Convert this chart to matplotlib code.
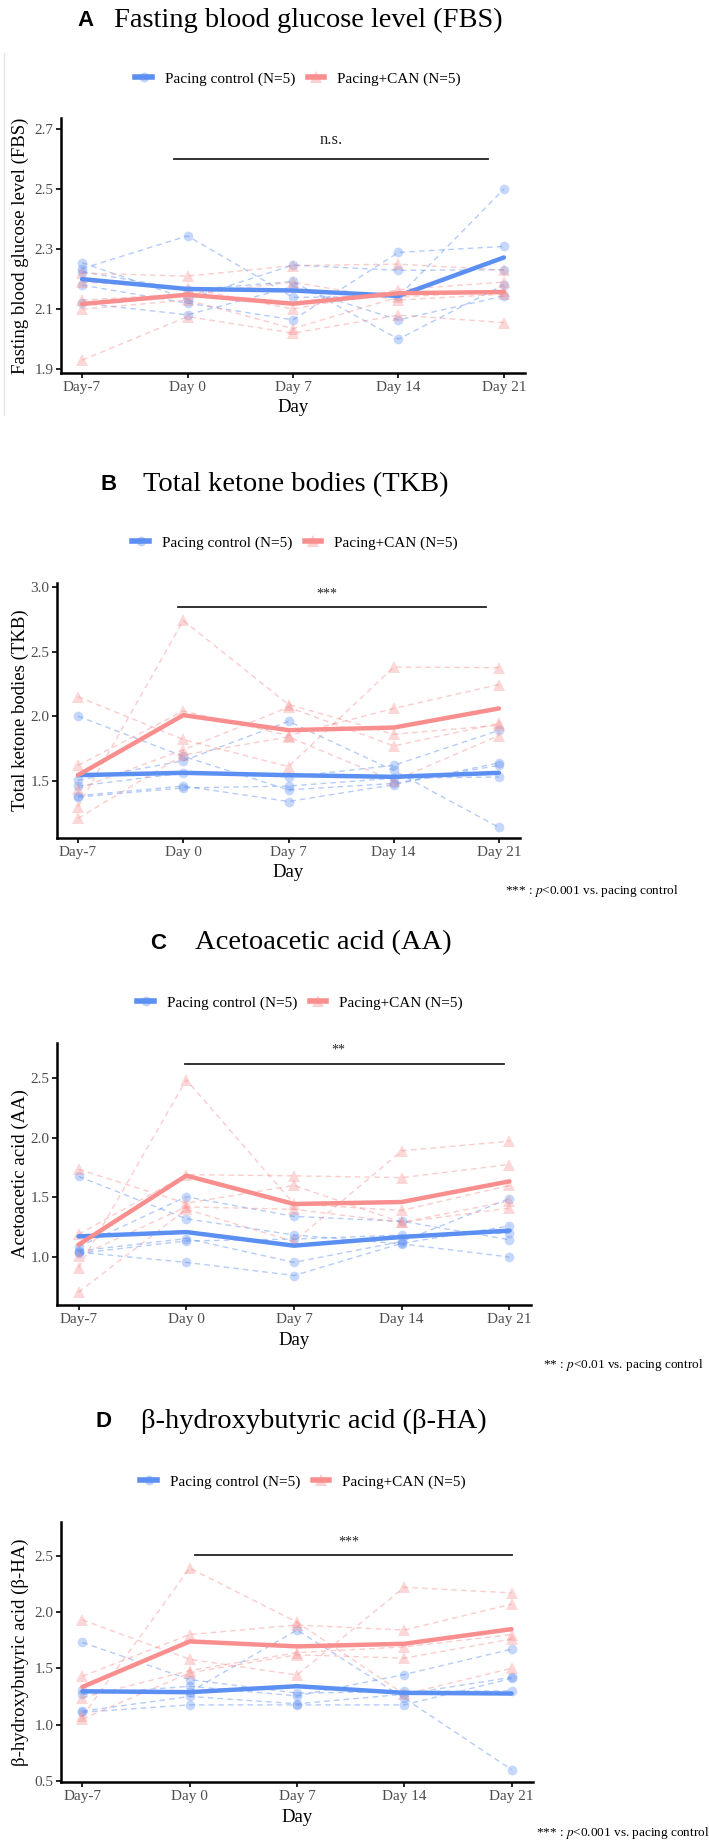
import numpy as np
import matplotlib
matplotlib.use("Agg")
import matplotlib.pyplot as plt
from matplotlib.lines import Line2D
from matplotlib.font_manager import FontProperties

plt.rcParams['font.family'] = ['Liberation Serif', 'DejaVu Serif']
plt.rcParams['mathtext.fontset'] = 'stix'

days = ["Day-7", "Day 0", "Day 7", "Day 14", "Day 21"]
legend_labels = ["Pacing control (N=5)", "Pacing+CAN (N=5)"]

# ---------------- Panel A : FBS ----------------
fbs_ctrl = [
    [2.255, 2.133, 2.247, 2.229, 2.231],
    [2.235, 2.344, 2.139, 2.142, 2.500],
    [2.225, 2.164, 2.192, 2.000, 2.181],
    [2.180, 2.120, 2.064, 2.289, 2.309],
    [2.120, 2.081, 2.175, 2.064, 2.144],
]
fbs_can = [
    [2.220, 2.210, 2.245, 2.250, 2.230],
    [2.190, 2.170, 2.100, 2.165, 2.190],
    [2.130, 2.150, 2.190, 2.130, 2.150],
    [2.100, 2.130, 2.035, 2.140, 2.160],
    [1.930, 2.075, 2.020, 2.080, 2.055],
]
fbs_ctrl_mean = [2.200, 2.167, 2.162, 2.144, 2.272]
fbs_can_mean = [2.117, 2.148, 2.118, 2.153, 2.157]

# ---------------- Panel B : TKB ----------------
tkb_ctrl = [
    [2.000, 1.690, 1.430, 1.480, 1.620],
    [1.505, 1.655, 1.960, 1.580, 1.140],
    [1.460, 1.560, 1.530, 1.620, 1.890],
    [1.385, 1.460, 1.340, 1.470, 1.640],
    [1.375, 1.445, 1.460, 1.520, 1.530],
]
tkb_can = [
    [2.150, 1.820, 1.610, 2.380, 2.375],
    [1.300, 2.740, 2.090, 1.860, 1.930],
    [1.620, 2.040, 1.850, 2.060, 2.245],
    [1.440, 1.740, 2.070, 1.770, 1.945],
    [1.210, 1.700, 1.840, 1.500, 1.850],
]
tkb_ctrl_mean = [1.544, 1.562, 1.544, 1.531, 1.562]
tkb_can_mean = [1.544, 2.008, 1.892, 1.912, 2.060]

# ---------------- Panel C : AA ----------------
aa_ctrl = [
    [1.675, 1.320, 1.185, 1.110, 1.000],
    [1.085, 1.505, 1.340, 1.300, 1.145],
    [1.050, 1.155, 0.955, 1.130, 1.490],
    [1.040, 0.955, 0.845, 1.115, 1.260],
    [1.030, 1.135, 1.150, 1.185, 1.200],
]
aa_can = [
    [1.735, 1.450, 1.600, 1.290, 1.470],
    [0.910, 2.485, 1.445, 1.390, 1.600],
    [1.190, 1.690, 1.680, 1.665, 1.775],
    [1.005, 1.420, 1.400, 1.290, 1.410],
    [0.705, 1.400, 1.130, 1.890, 1.970],
]
aa_ctrl_mean = [1.173, 1.209, 1.095, 1.168, 1.221]
aa_can_mean = [1.103, 1.682, 1.444, 1.461, 1.634]

# ---------------- Panel D : beta-HA ----------------
bha_ctrl = [
    [1.730, 1.400, 1.280, 1.295, 1.300],
    [1.305, 1.290, 1.840, 1.235, 0.600],
    [1.270, 1.340, 1.255, 1.445, 1.670],
    [1.120, 1.250, 1.185, 1.270, 1.420],
    [1.110, 1.175, 1.175, 1.175, 1.410],
]
bha_can = [
    [1.930, 1.580, 1.440, 2.220, 2.170],
    [1.075, 2.390, 1.910, 1.270, 1.500],
    [1.430, 1.800, 1.885, 1.840, 2.070],
    [1.240, 1.480, 1.640, 1.690, 1.800],
    [1.050, 1.460, 1.620, 1.590, 1.760],
]
bha_ctrl_mean = [1.296, 1.288, 1.341, 1.282, 1.276]
bha_can_mean = [1.335, 1.739, 1.695, 1.718, 1.848]

W, H = 709, 1842
BLUE = "#5B8FF2"
RED = "#F98E8E"
GRAY = "#4D4D4D"

fig = plt.figure(figsize=(W / 100, H / 100), dpi=100)


def rect(l, t, r, b):
    return [l / W, 1 - b / H, (r - l) / W, (b - t) / H]


def fx(x):
    return x / W


def fy(y):
    return 1 - y / H


panels = [
    dict(letter="A", title="Fasting blood glucose level (FBS)", ylabel="Fasting blood glucose level (FBS)",
         ctrl=fbs_ctrl, can=fbs_can, cm=fbs_ctrl_mean, km=fbs_can_mean,
         box=(61, 118, 525, 373), ylim=(1.887, 2.737), yticks=[1.9, 2.1, 2.3, 2.5, 2.7],
         letter_x=77, title_x=114, title_y=20, legend_y=79, legend_x=298,
         sig=(0.87, 3.845, 2.60), sig_text="n.s.", sig_text_pos=(2.36, 2.665), sig_fs=12,
         xlabel_y=408, note=None),
    dict(letter="B", title="Total ketone bodies (TKB)", ylabel="Total ketone bodies (TKB)",
         ctrl=tkb_ctrl, can=tkb_can, cm=tkb_ctrl_mean, km=tkb_can_mean,
         box=(57, 583, 520, 838), ylim=(1.058, 3.03), yticks=[1.5, 2.0, 2.5, 3.0],
         letter_x=100, title_x=143, title_y=485, legend_y=543, legend_x=295,
         sig=(0.95, 3.88, 2.845), sig_text="***", sig_text_pos=(2.36, 2.945), sig_fs=10,
         xlabel_y=872, note=("***", "p<0.001", 505, 891)),
    dict(letter="C", title="Acetoacetic acid (AA)", ylabel="Acetoacetic acid (AA)",
         ctrl=aa_ctrl, can=aa_can, cm=aa_ctrl_mean, km=aa_can_mean,
         box=(57, 1043, 531, 1305), ylim=(0.598, 2.793), yticks=[1.0, 1.5, 2.0, 2.5],
         letter_x=150, title_x=195, title_y=943, legend_y=1003, legend_x=300,
         sig=(0.985, 3.945, 2.62), sig_text="**", sig_text_pos=(2.41, 2.735), sig_fs=10,
         xlabel_y=1340, note=("**", "p<0.01", 543, 1365)),
    dict(letter="D", title="β-hydroxybutyric acid (β-HA)", ylabel="β-hydroxybutyric acid (β-HA)",
         ctrl=bha_ctrl, can=bha_can, cm=bha_ctrl_mean, km=bha_can_mean,
         box=(61, 1522, 533, 1782), ylim=(0.49, 2.80), yticks=[0.5, 1.0, 1.5, 2.0, 2.5],
         letter_x=95, title_x=141, title_y=1421, legend_y=1482, legend_x=303,
         sig=(1.05, 4.0, 2.506), sig_text="***", sig_text_pos=(2.48, 2.62), sig_fs=10,
         xlabel_y=1817, note=("***", "p<0.001", 536, 1833)),
]

x = np.arange(len(days))
legend_prop = FontProperties(family="Liberation Serif", size=11)

for p in panels:
    l, t, r, b = p["box"]
    ax = fig.add_axes(rect(l, t, r, b))
    for row in p["ctrl"]:
        ax.plot(x, row, ls=(0, (4, 3)), lw=1.0, color=BLUE, alpha=0.45, zorder=2)
        ax.plot(x, row, ls="none", marker="o", ms=7, color=BLUE, alpha=0.35,
                markeredgewidth=0, zorder=3)
    for row in p["can"]:
        ax.plot(x, row, ls=(0, (4, 3)), lw=1.0, color=RED, alpha=0.45, zorder=2)
        ax.plot(x, row, ls="none", marker="^", ms=8, color=RED, alpha=0.35,
                markeredgewidth=0, zorder=3)
    ax.plot(x, p["cm"], color=BLUE, lw=3.2, solid_capstyle="round", zorder=5)
    ax.plot(x, p["km"], color=RED, lw=3.2, solid_capstyle="round", zorder=5)

    x0, x1, ys = p["sig"]
    ax.plot([x0, x1], [ys, ys], color="#222222", lw=1.3, zorder=6)
    ax.text(p["sig_text_pos"][0], p["sig_text_pos"][1], p["sig_text"], ha="center", va="center",
            fontsize=p["sig_fs"], color="#222222")

    ax.set_xlim(-0.2, 4.2)
    ax.set_ylim(*p["ylim"])
    ax.set_xticks(x)
    ax.set_xticklabels(days)
    ax.set_yticks(p["yticks"])
    ax.set_yticklabels([f"{v:.1f}" for v in p["yticks"]])
    for s in ["top", "right"]:
        ax.spines[s].set_visible(False)
    for s in ["left", "bottom"]:
        ax.spines[s].set_linewidth(1.8)
        ax.spines[s].set_color("black")
    ax.tick_params(axis="both", length=3.5, width=1.2, color="black", labelcolor=GRAY,
                   labelsize=11, pad=2)

    # y label and x label
    fig.text(fx(20), fy((t + b) / 2), p["ylabel"], rotation=90, ha="center", va="center",
             fontsize=13.5, color="black")
    fig.text(fx((l + r) / 2), fy(p["xlabel_y"]), "Day", ha="center", va="center",
             fontsize=13.5, color="black")

    # title
    fig.text(fx(p["letter_x"]), fy(p["title_y"]), p["letter"], ha="left", va="center",
             fontsize=16, fontweight="bold", family=["Liberation Sans", "DejaVu Sans"])
    fig.text(fx(p["title_x"]), fy(p["title_y"]), p["title"], ha="left", va="center",
             fontsize=20.5, color="black")

    # legend
    h1 = (Line2D([], [], color=BLUE, lw=4),
          Line2D([], [], ls="none", marker="o", ms=7, color=BLUE, alpha=0.4, markeredgewidth=0))
    h2 = (Line2D([], [], color=RED, lw=4),
          Line2D([], [], ls="none", marker="^", ms=8, color=RED, alpha=0.4, markeredgewidth=0))
    fig.legend([h1, h2], legend_labels, loc="center", ncol=2, frameon=False,
               bbox_to_anchor=(fx(p["legend_x"]), fy(p["legend_y"])),
               prop=legend_prop, handlelength=1.05, handletextpad=0.85, columnspacing=0.85)

    # footnote
    if p["note"] is not None:
        stars, ptxt, nx, ny = p["note"]
        fig.text(fx(nx), fy(ny), stars + " : $\\mathit{p}$" + ptxt[1:] + " vs. pacing control",
                 ha="left", va="center", fontsize=9.5, color="black")

# faint border on the left of panel A (screenshot edge)
fig.add_artist(Line2D([fx(4), fx(4)], [fy(53), fy(415)], color="#E3E3E3", lw=1.0))

fig.savefig("out.png", dpi=100, facecolor="white")
